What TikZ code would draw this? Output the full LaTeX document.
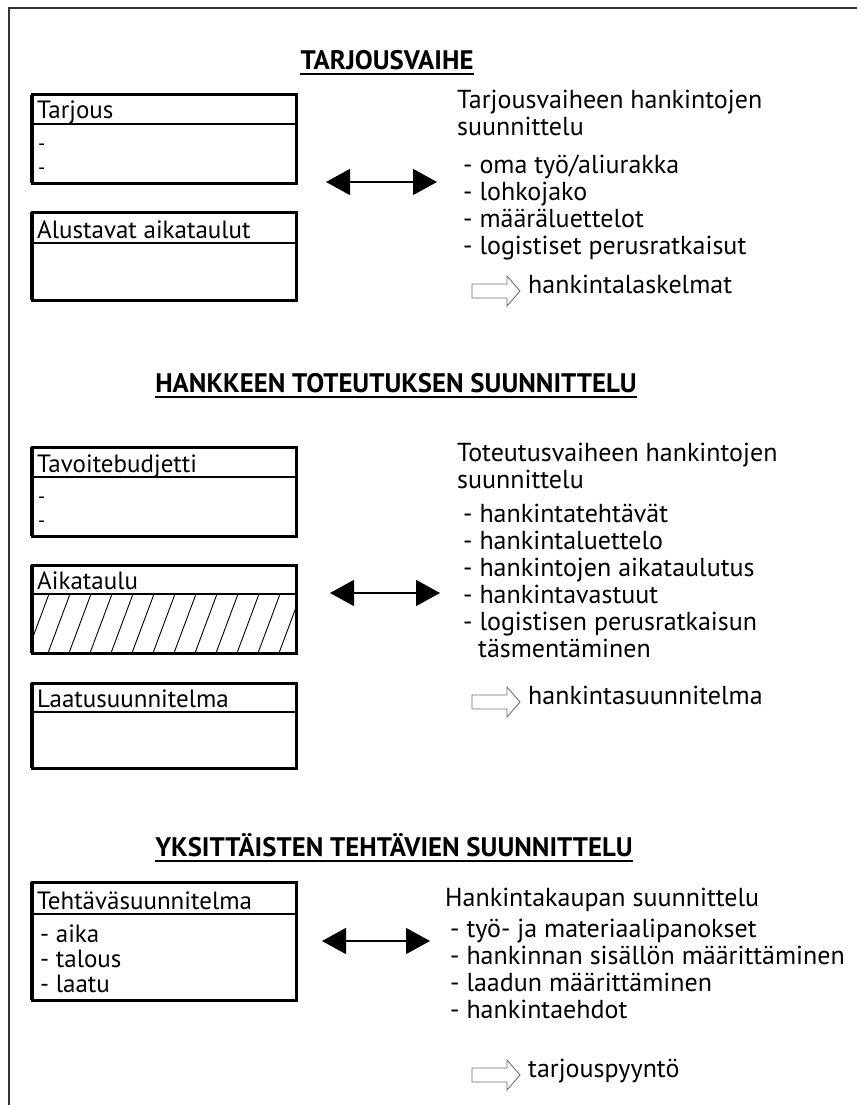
\documentclass[tikz,border=0pt]{standalone}
\usepackage{fontspec}
\setmainfont{PT Sans}
\usetikzlibrary{arrows.meta}
\begin{document}
\begin{tikzpicture}[x=1pt,y=-1pt,
  frame/.style={line width=2.8pt, draw=black!80},
  boxline/.style={line width=3pt},
  boxleft/.style={line width=4.4pt},
  hdr/.style={line width=2.4pt},
  lbl/.style={anchor=base west, inner sep=0pt, font=\fontsize{25}{29}\selectfont},
  dsh/.style={anchor=west, inner sep=0pt, font=\fontsize{20}{22}\selectfont},
  itm/.style={anchor=north west, inner sep=0pt, align=left, font=\fontsize{25}{25}\selectfont},
  rt/.style={anchor=mid west, inner sep=0pt, font=\fontsize{26}{30}\selectfont},
  ttl/.style={inner sep=0pt, font=\fontsize{26.8}{30}\selectfont\bfseries},
  uline/.style={line width=1.8pt},
  dbl/.style={line width=1.5pt, {Triangle[length=24pt,width=26pt]}-{Triangle[length=24pt,width=26pt]}},
  hollow/.style={draw=black!55, line width=0.9pt, fill=white},
  openarrow/.pic={\draw[hollow] (0,-7) -- (35,-7) -- (35,-15) -- (48,0) -- (35,15) -- (35,7) -- (0,7) -- cycle;}
]
\useasboundingbox (0,0) rectangle (857,1105);
% frame
\draw[frame] (9,1105) -- (9,8) -- (857,8);

% ---------- Section 1 ----------
\node[ttl] (t1) at (387,60) {TARJOUSVAIHE};
\draw[uline] ([yshift=-5pt]t1.base west) -- ([yshift=-5pt]t1.base east);

\draw[boxline] (32,95) rectangle (296,183);
\draw[boxleft] (32,95) -- (32,183);
\draw[hdr] (32,124) -- (296,124);
\node[lbl] (b1) at (37,119) {Tarjous};
\node[dsh] (b1a) at (38,147) {-};
\node[dsh] (b1b) at (38,171) {-};

\draw[boxline] (32,212) rectangle (296,300);
\draw[boxleft] (32,212) -- (32,300);
\draw[hdr] (32,243) -- (296,243);
\node[lbl] (b2) at (37,238) {Alustavat aikataulut};

\coordinate (a1l) at (326,182);
\coordinate (a1r) at (437,182);
\draw[dbl] (a1l) -- (a1r);

\node[rt] (r1a) at (457,106) {Tarjousvaiheen hankintojen};
\node[rt] (r1b) at (457,133) {suunnittelu};
\node[rt] (r1c) at (463,171) {- oma työ/aliurakka};
\node[rt] (r1d) at (463,198) {- lohkojako};
\node[rt] (r1e) at (463,225) {- määräluettelot};
\node[rt] (r1f) at (463,252) {- logistiset perusratkaisut};
\pic at (472,291) {openarrow};
\node[rt] (r1g) at (528,291) {hankintalaskelmat};

% ---------- Section 2 ----------
\node[ttl] (t2) at (396,383) {HANKKEEN TOTEUTUKSEN SUUNNITTELU};
\draw[uline] ([yshift=-5pt]t2.base west) -- ([yshift=-5pt]t2.base east);

\draw[boxline] (32,447) rectangle (296,536);
\draw[boxleft] (32,447) -- (32,536);
\draw[hdr] (32,477) -- (296,477);
\node[lbl] (b3) at (37,472) {Tavoitebudjetti};
\node[dsh] (b3a) at (38,500) {-};
\node[dsh] (b3b) at (38,524) {-};

\begin{scope}
\clip (32,594) rectangle (296,653);
\foreach \x in {6,27,...,320} \draw[line width=0.9pt] (\x,653) -- (\x+22,594);
\end{scope}
\draw[boxline] (32,565) rectangle (296,653);
\draw[boxleft] (32,565) -- (32,653);
\draw[hdr] (32,594) -- (296,594);
\node[lbl] (b4) at (37,589) {Aikataulu};

\draw[boxline] (32,683) rectangle (296,768);
\draw[boxleft] (32,683) -- (32,768);
\draw[hdr] (32,712) -- (296,712);
\node[lbl] (b5) at (37,707) {Laatusuunnitelma};

\coordinate (a2l) at (330,593);
\coordinate (a2r) at (440,593);
\draw[dbl] (a2l) -- (a2r);

\node[rt] (r2a) at (457,459) {Toteutusvaiheen hankintojen};
\node[rt] (r2b) at (457,486) {suunnittelu};
\node[rt] (r2c) at (463,520) {- hankintatehtävät};
\node[rt] (r2d) at (463,547) {- hankintaluettelo};
\node[rt] (r2e) at (463,574) {- hankintojen aikataulutus};
\node[rt] (r2f) at (463,601) {- hankintavastuut};
\node[rt] (r2g) at (463,628) {- logistisen perusratkaisun};
\node[rt] (r2h) at (478,655) {täsmentäminen};
\pic at (472,702) {openarrow};
\node[rt] (r2i) at (528,702) {hankintasuunnitelma};

% ---------- Section 3 ----------
\node[ttl] (t3) at (394,845) {YKSITTÄISTEN TEHTÄVIEN SUUNNITTELU};
\draw[uline] ([yshift=-5pt]t3.base west) -- ([yshift=-5pt]t3.base east);

\draw[boxline] (32,882) rectangle (296,1000);
\draw[boxleft] (32,882) -- (32,1000);
\draw[hdr] (32,914) -- (296,914);
\node[lbl] (b6) at (37,909) {Tehtäväsuunnitelma};
\node[itm] (b6a) at (40,925) {- aika\\- talous\\- laatu};

\coordinate (a3l) at (322,941);
\coordinate (a3r) at (430,941);
\draw[dbl] (a3l) -- (a3r);

\node[rt] (r3a) at (445,904) {Hankintakaupan suunnittelu};
\node[rt] (r3b) at (450,935) {- työ- ja materiaalipanokset};
\node[rt] (r3c) at (450,962) {- hankinnan sisällön määrittäminen};
\node[rt] (r3d) at (450,989) {- laadun määrittäminen};
\node[rt] (r3e) at (450,1016) {- hankintaehdot};
\pic at (472,1075) {openarrow};
\node[rt] (r3f) at (528,1075) {tarjouspyyntö};
\end{tikzpicture}
\end{document}
